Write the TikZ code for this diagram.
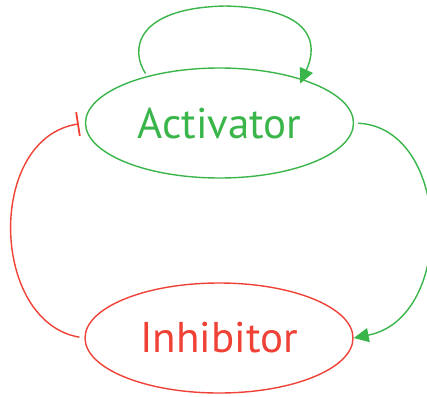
\documentclass[tikz,border=0pt]{standalone}
\usepackage{fontspec}
\setmainfont{PT Sans}
\usetikzlibrary{shapes.geometric,arrows.meta}
\definecolor{actgreen}{RGB}{57,181,74}
\definecolor{inhred}{RGB}{239,65,54}
\begin{document}
\begin{tikzpicture}[x=1pt,y=-1pt,
  state/.style={ellipse,draw,line width=1.4pt,minimum width=268pt,minimum height=110pt,inner sep=0pt,font=\fontsize{43}{47}\selectfont},
  conn/.style={line width=1.4pt},
  act/.style={-{Triangle[length=15pt,width=14pt]}},
  inhib/.style={-{Bar[width=24pt,line width=1.8pt]}}]
\useasboundingbox (0,0) rectangle (427,396);
\node[state,draw=actgreen,text=actgreen] (A) at (219.5,123) {Activator};
\node[state,draw=inhred,text=inhred] (I) at (219,338) {Inhibitor};
\draw[conn,actgreen,act,shorten <=3pt,shorten >=-5pt] (A.147) .. controls (130,50) and (135,8) .. (225,6) .. controls (315,8) and (318,45) .. (A.28);
\draw[conn,actgreen,act,shorten <=4pt] (A.east) .. controls (452,128) and (456,318) .. (I.east);
\draw[conn,inhred,inhib,shorten <=5pt,shorten >=6pt] (I.west) .. controls (-10,322) and (-14,138) .. (A.west);
\end{tikzpicture}
\end{document}
